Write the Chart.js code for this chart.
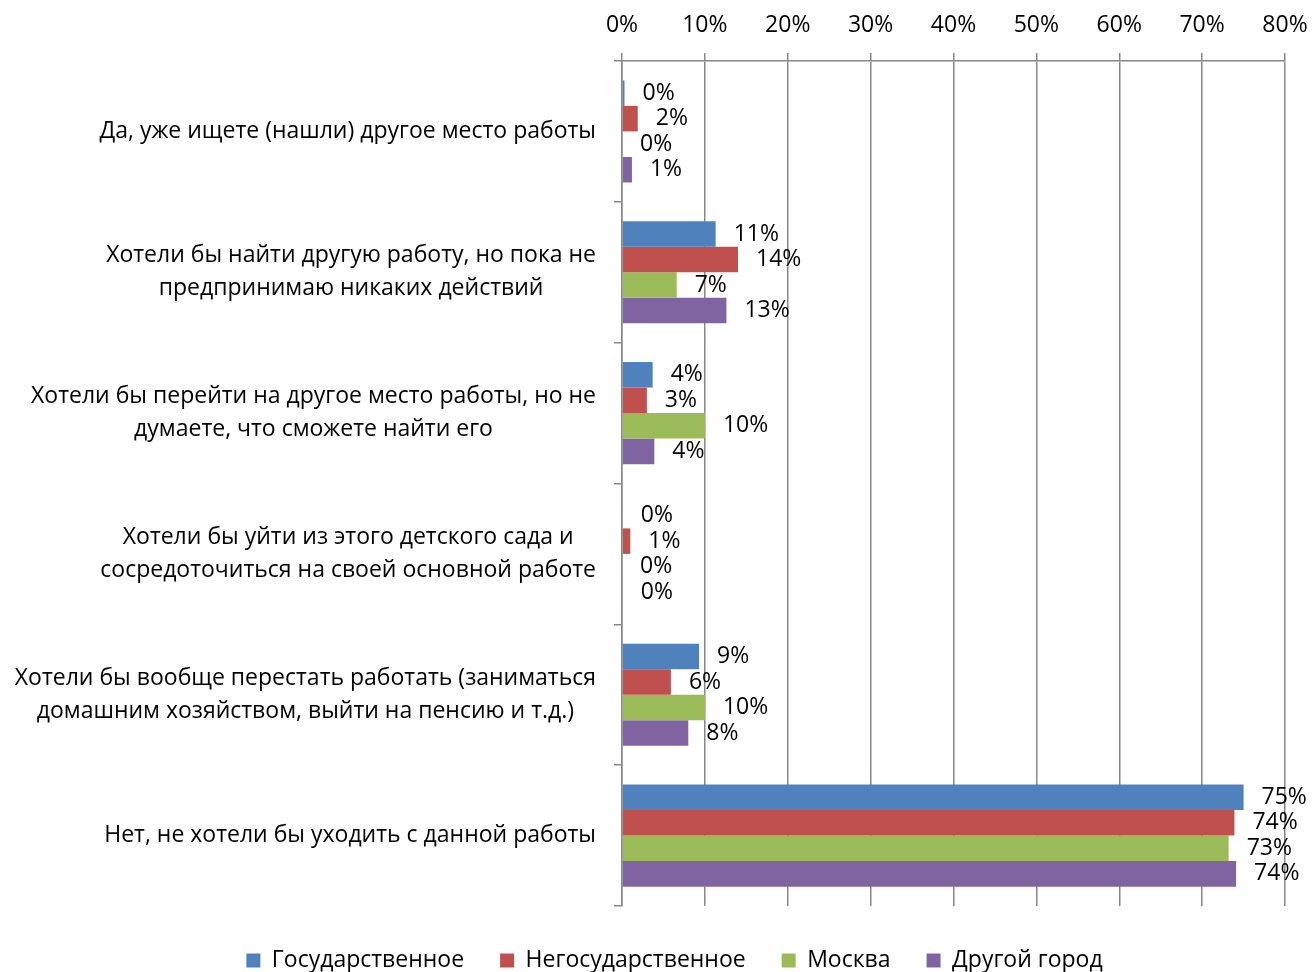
<!DOCTYPE html>
<html>
<head>
<meta charset="utf-8">
<script src="https://cdn.jsdelivr.net/npm/chart.js@4/dist/chart.umd.min.js"></script>
<style>
  html, body { margin: 0; padding: 0; background: #fff; }
  #wrap { width: 1314px; height: 972px; }
</style>
</head>
<body>
<div id="wrap"><canvas id="chart" width="1314" height="972"></canvas></div>
<script>
const categories = [
    ['Да, уже ищете (нашли) другое место работы'],
    ['Хотели бы найти другую работу, но пока не', 'предпринимаю никаких действий'],
    ['Хотели бы перейти на другое место работы, но не', 'думаете, что сможете найти его'],
    ['Хотели бы уйти из этого детского сада и', 'сосредоточиться на своей основной работе'],
    ['Хотели бы вообще перестать работать (заниматься', 'домашним хозяйством, выйти на пенсию и т.д.)'],
    ['Нет, не хотели бы уходить с данной работы'],
];
const seriesNames = ['Государственное', 'Негосударственное', 'Москва', 'Другой город'];
const gosValues = [0.3, 11.3, 3.7, 0.1, 9.3, 75.0];
const negosValues = [1.9, 14.0, 3.0, 1.0, 5.9, 73.9];
const moscowValues = [0, 6.6, 10.0, 0, 10.0, 73.2];
const otherValues = [1.2, 12.6, 3.9, 0.1, 8.0, 74.1];
const xTicks = [0, 10, 20, 30, 40, 50, 60, 70, 80];

const FONT = "'Open Sans', 'DejaVu Sans', sans-serif";
const FSIZE = 23;
const GRID = '#878787';

// category labels: each label centered on itself, longest line right edge near the axis
const categoryLabels = {
    id: 'categoryLabels',
    afterDraw(chart) {
        const ctx = chart.ctx;
        const y = chart.scales.y;
        const rightEdge = chart.chartArea.left - 26;
        ctx.save();
        ctx.font = FSIZE + 'px ' + FONT;
        ctx.fillStyle = '#000';
        ctx.textAlign = 'center';
        ctx.textBaseline = 'middle';
        categories.forEach((lines, i) => {
            const maxW = Math.max(...lines.map(l => ctx.measureText(l).width));
            const cx = rightEdge - maxW / 2;
            const cy = y.getPixelForValue(i);
            const lh = 33;
            lines.forEach((l, j) => {
                ctx.fillText(l, cx, cy + (j - (lines.length - 1) / 2) * lh);
            });
        });
        ctx.restore();
    }
};

// value labels after each bar end
const valueLabels = {
    id: 'valueLabels',
    afterDatasetsDraw(chart) {
        const ctx = chart.ctx;
        ctx.save();
        ctx.font = FSIZE + 'px ' + FONT;
        ctx.fillStyle = '#000';
        ctx.textAlign = 'left';
        ctx.textBaseline = 'middle';
        chart.data.datasets.forEach((ds, di) => {
            chart.getDatasetMeta(di).data.forEach((bar, i) => {
                ctx.fillText(Math.round(ds.data[i]) + '%', bar.x + 18, bar.y);
            });
        });
        ctx.restore();
    }
};

const ctx = document.getElementById('chart').getContext('2d');
new Chart(ctx, {
    type: 'bar',
    data: {
        labels: categories,
        datasets: [
            { label: seriesNames[0], data: gosValues, backgroundColor: '#4F81BD' },
            { label: seriesNames[1], data: negosValues, backgroundColor: '#C0504D' },
            { label: seriesNames[2], data: moscowValues, backgroundColor: '#9BBB59' },
            { label: seriesNames[3], data: otherValues, backgroundColor: '#8064A2' },
        ],
    },
    options: {
        indexAxis: 'y',
        responsive: false,
        animation: false,
        layout: { padding: { left: 64, right: 29, top: 0, bottom: -10 } },
        datasets: { bar: { barPercentage: 1, categoryPercentage: 0.725 } },
        scales: {
            x: {
                position: 'top',
                min: 0,
                max: 80,
                afterBuildTicks(scale) { scale.ticks = xTicks.map(v => ({ value: v })); },
                afterFit(scale) {
                    scale.height = 61;
                    scale.paddingLeft = 0;
                    scale.paddingRight = 0;
                },
                ticks: {
                    callback: v => v + '%',
                    color: '#000',
                    font: { family: FONT, size: FSIZE },
                    padding: 14,
                },
                grid: { color: GRID, lineWidth: 1.5, tickLength: 8 },
                border: { display: true, color: GRID, width: 1.5 },
            },
            y: {
                afterFit(scale) { scale.width = 558; },
                ticks: { display: false },
                grid: { offset: true, drawOnChartArea: false, color: GRID, lineWidth: 1.5, tickLength: 8 },
                border: { display: true, color: GRID, width: 1.5 },
            },
        },
        plugins: {
            legend: {
                display: true,
                position: 'bottom',
                title: { display: true, text: ' ', font: { size: 5 }, padding: { top: 1, bottom: 0 } },
                labels: {
                    color: '#000',
                    font: { family: FONT, size: FSIZE },
                    boxWidth: 14,
                    boxHeight: 14,
                    padding: 36,
                },
            },
            tooltip: { enabled: false },
        },
    },
    plugins: [categoryLabels, valueLabels],
});
</script>
</body>
</html>
